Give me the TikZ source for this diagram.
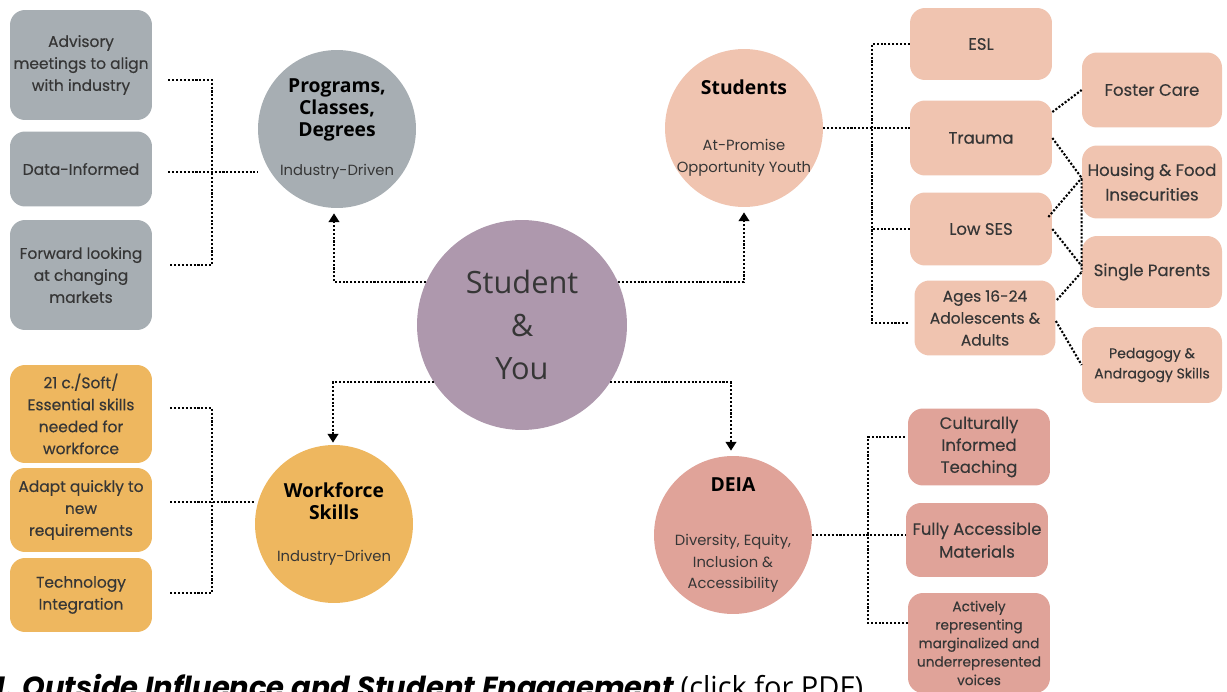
\documentclass[tikz,border=0pt]{standalone}
\usepackage{fontspec}
\setmainfont{Poppins}
\newfontfamily\headfont{Open Sans}
\newfontfamily\itemfont[FakeBold=0.3]{Poppins}
\usetikzlibrary{arrows.meta,positioning}

\definecolor{slate}{HTML}{A7AEB3}
\definecolor{mauve}{HTML}{AE98AD}
\definecolor{peach}{HTML}{F0C4B0}
\definecolor{amber}{HTML}{EEB75F}
\definecolor{rose}{HTML}{E0A399}
\definecolor{ink}{HTML}{363636}

\newcommand\hubsub{\normalfont\color{ink}\fontsize{8.4}{11.5}\selectfont}

\tikzset{
  item/.style={rounded corners=0.3cm, minimum width=2.84cm, align=center,
    text=ink, inner sep=1pt, font=\itemfont\fontsize{8.8}{12.5}\selectfont},
  big item/.style={item, font=\itemfont\fontsize{9.4}{14}\selectfont},
  hub/.style={circle, minimum size=3.16cm, inner sep=-12pt, align=center,
    text=black, font=\headfont\bfseries\fontsize{11}{12.4}\selectfont},
  link/.style={line width=1.2pt, dash pattern=on 1.2pt off 1pt},
  tip/.style={-{Triangle[width=6pt,length=5pt]}}
}

\begin{document}
\begin{tikzpicture}[x=0.02cm, y=-0.02cm]
    \useasboundingbox (0,0) rectangle (1227,692);
    \clip (0,0) rectangle (1227,692);
    \fill[white] (0,0) rectangle (1227,692);

    % Centre and the four hubs
    \node[circle, fill=mauve, minimum size=4.2cm, align=center, text=ink,
          font=\headfont\fontsize{17.5}{24.5}\selectfont] (you) at (522,325) {Student\\\&\\You};
    \node[hub, fill=slate] (prog) at (337,129) {Programs,\\Classes,\\Degrees\\[3.5mm]\hubsub Industry-Driven};
    \node[hub, fill=peach] (stud) at (744,128) {Students\\[7mm]\hubsub At-Promise\\\hubsub Opportunity Youth};
    \node[hub, fill=amber] (work) at (334,524) {Workforce\\Skills\\[4mm]\hubsub Industry-Driven};
    \node[hub, fill=rose] (deia) at (733,535) {DEIA\\[6.5mm]\hubsub Diversity, Equity,\\\hubsub Inclusion \&\\\hubsub Accessibility};

    % Programs side
    \node[item, fill=slate, minimum height=2.2cm] (adv) at (81,65) {Advisory\\meetings to align\\with industry};
    \node[item, fill=slate, minimum height=1.5cm] (data) at (81,169) {Data-Informed};
    \node[item, fill=slate, minimum height=2.2cm] (fwd) at (81,275) {Forward looking\\at changing\\markets};

    % Workforce side
    \node[item, fill=amber, minimum height=1.96cm] (soft) at (81,414) {21 c./Soft/\\Essential skills\\needed for\\workforce};
    \node[item, fill=amber, minimum height=1.68cm] (adapt) at (81,510) {Adapt quickly to\\new\\requirements};
    \node[item, fill=amber, minimum height=1.48cm] (tech) at (81,595) {Technology\\Integration};

    % Students side
    \node[big item, fill=peach, minimum height=1.44cm] (esl) at (981,44) {ESL};
    \node[big item, fill=peach, minimum height=1.5cm] (trauma) at (981,138) {Trauma};
    \node[big item, fill=peach, minimum height=1.46cm] (ses) at (981,229) {Low SES};
    \node[item, fill=peach, minimum height=1.5cm, minimum width=2.82cm] (ages) at (985,318) {Ages 16-24\\Adolescents \&\\Adults};
    \node[big item, fill=peach, minimum height=1.5cm, minimum width=2.8cm] (foster) at (1152,90) {Foster Care};
    \node[big item, fill=peach, minimum height=1.46cm, minimum width=2.8cm] (housing) at (1152,182) {Housing \& Food\\Insecurities};
    \node[big item, fill=peach, minimum height=1.44cm, minimum width=2.8cm] (single) at (1152,272) {Single Parents};
    \node[item, fill=peach, minimum height=1.52cm, minimum width=2.8cm,
          font=\itemfont\fontsize{8}{11.5}\selectfont] (peda) at (1152,365) {Pedagogy \&\\Andragogy Skills};

    % DEIA side
    \node[item, fill=rose, minimum height=1.54cm, font=\itemfont\fontsize{9.4}{12.5}\selectfont] (cult) at (979,447) {Culturally\\Informed\\Teaching};
    \node[big item, fill=rose, minimum height=1.48cm, font=\itemfont\fontsize{9.4}{13}\selectfont] (fully) at (977,540) {Fully Accessible\\Materials};
    \node[item, fill=rose, minimum height=2cm,
          font=\itemfont\fontsize{7.8}{10.5}\selectfont] (active) at (979,643) {Actively\\representing\\marginalized and\\underrepresented\\voices};

    % Arrows out of the centre
    \draw[link, tip] (you.156) -| ([shift={(-3,5)}]prog.south);
    \draw[link, tip] (you.24) -| ([shift={(0,5)}]stud.south);
    \draw[link, tip] (you.213) -| ([shift={(-1,-2)}]work.north);
    \draw[link, tip] (you.-33) -| ([shift={(-2,-5)}]deia.north);

    % Programs tree
    \coordinate (pbus) at (212,172);
    \draw[link] ([shift={(16,15)}]adv.east) -| (pbus);
    \draw[link] ([shift={(18,-10)}]fwd.east) -| (pbus);
    \draw[link] ([shift={(16,3)}]data.east) -- (prog.west |- pbus);

    % Workforce tree
    \coordinate (wbus) at (212,502);
    \draw[link] ([shift={(18,-6)}]soft.east) -| (wbus);
    \draw[link] ([shift={(18,-2)}]tech.east) -| (wbus);
    \draw[link] ([shift={(18,-8)}]adapt.east) -- (work.west |- wbus);

    % Students tree
    \coordinate (sbus) at (872,128);
    \draw[link] (stud.east) -- (trauma.west |- stud.east);
    \draw[link] (esl.west) -| (sbus);
    \draw[link] (ses.west) -| (sbus);
    \draw[link] ([shift={(-6,5)}]ages.west) -| (sbus);

    % cross links between the student boxes
    \draw[link] ([shift={(0,-26)}]trauma.east) -- (foster.west);
    \draw[link] (trauma.east) -- ([shift={(0,-4)}]housing.west) -- (single.west);
    \draw[link] ([shift={(-4,-12)}]ses.east) -- ([shift={(0,-4)}]housing.west);
    \draw[link] (ses.east) -- ([shift={(0,-6)}]single.west);
    \draw[link] ([shift={(1,-18)}]ages.east) -- (single.west);
    \draw[link] ([shift={(0,3)}]ages.east) -- (peda.west);

    % DEIA tree
    \coordinate (dbus) at (868,535);
    \draw[link] (deia.east) -- (fully.west |- deia.east);
    \draw[link] ([shift={(-3,-10)}]cult.west) -| (dbus);
    \draw[link] ([shift={(0,-20)}]active.west) -| (dbus);

    % Caption, cut by the lower edge
    \node[anchor=base west, inner sep=0pt, font=\fontsize{16.5}{18}\selectfont] (caption) at (-6,697)
        {\bfseries\itshape 1. Outside Influence and Student Engagement \headfont\mdseries\upshape(click for PDF)};
\end{tikzpicture}
\end{document}
